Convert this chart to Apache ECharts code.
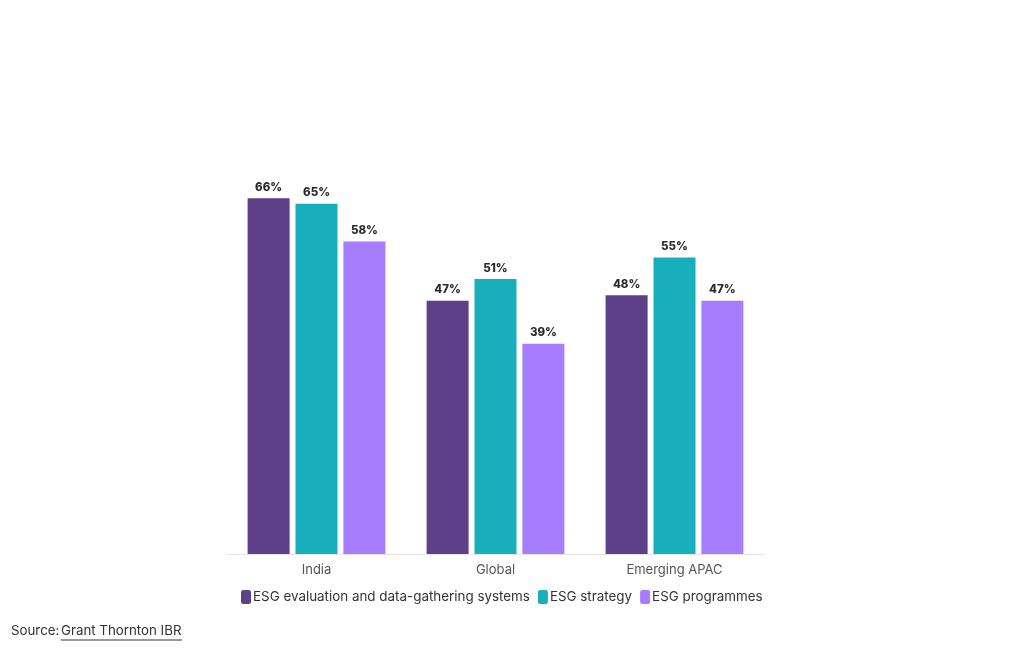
<!DOCTYPE html>
<html><head><meta charset="utf-8">
<script src="https://cdn.jsdelivr.net/npm/echarts@6/dist/echarts.min.js"></script>
<style>html,body{margin:0;padding:0;background:#fff}#c{width:1020px;height:650px}</style>
</head><body><div id="c"></div>
<script>
const categories = ['India', 'Global', 'Emerging APAC'];
const seriesNames = ['ESG evaluation and data-gathering systems', 'ESG strategy', 'ESG programmes'];
const evaluation = [66, 47, 48];
const strategy = [65, 51, 55];
const programmes = [58, 39, 47];
const colors = ['#5e4089', '#18aebb', '#a77dff'];
const chart = echarts.init(document.getElementById('c'));
const mk = (name, data, color) => ({
  name, type: 'bar', data, barWidth: 42, barGap: '14%',
  itemStyle: { color },
  label: { show: true, position: 'top', distance: 5, formatter: '{c}%', color: '#2b2b2b', fontFamily: 'Inter', fontWeight: 800, fontSize: 11.5 }
});
chart.setOption({
  animation: false,
  grid: { left: 227, right: 256, top: 15, bottom: 96 },
  xAxis: { type: 'category', data: categories,
    axisLine: { lineStyle: { color: '#e6e6e6' } }, axisTick: { show: false },
    axisLabel: { color: '#555', fontFamily: 'Inter', fontSize: 13, margin: 10 } },
  yAxis: { type: 'value', min: 0, max: 100, show: false, splitLine: { show: false } },
  legend: { bottom: 41, left: 236, itemWidth: 10, itemHeight: 14, itemGap: 8,
    icon: 'roundRect', textStyle: { color: '#333', fontFamily: 'Inter', fontSize: 13.4, padding: [0, 0, 0, -3] },
    data: seriesNames },
  series: [mk(seriesNames[0], evaluation, colors[0]), mk(seriesNames[1], strategy, colors[1]), mk(seriesNames[2], programmes, colors[2])],
  graphic: [
    { type: 'text', left: 11, top: 624, style: { text: 'Source: ', fill: '#333', font: '13.3px Inter' } },
    { type: 'text', left: 61, top: 624, style: { text: 'Grant Thornton IBR', fill: '#333', font: '13.3px Inter' } },
    { type: 'line', shape: { x1: 61, y1: 640, x2: 182, y2: 640 }, style: { stroke: '#333', lineWidth: 1 } }
  ]
});
</script></body></html>
